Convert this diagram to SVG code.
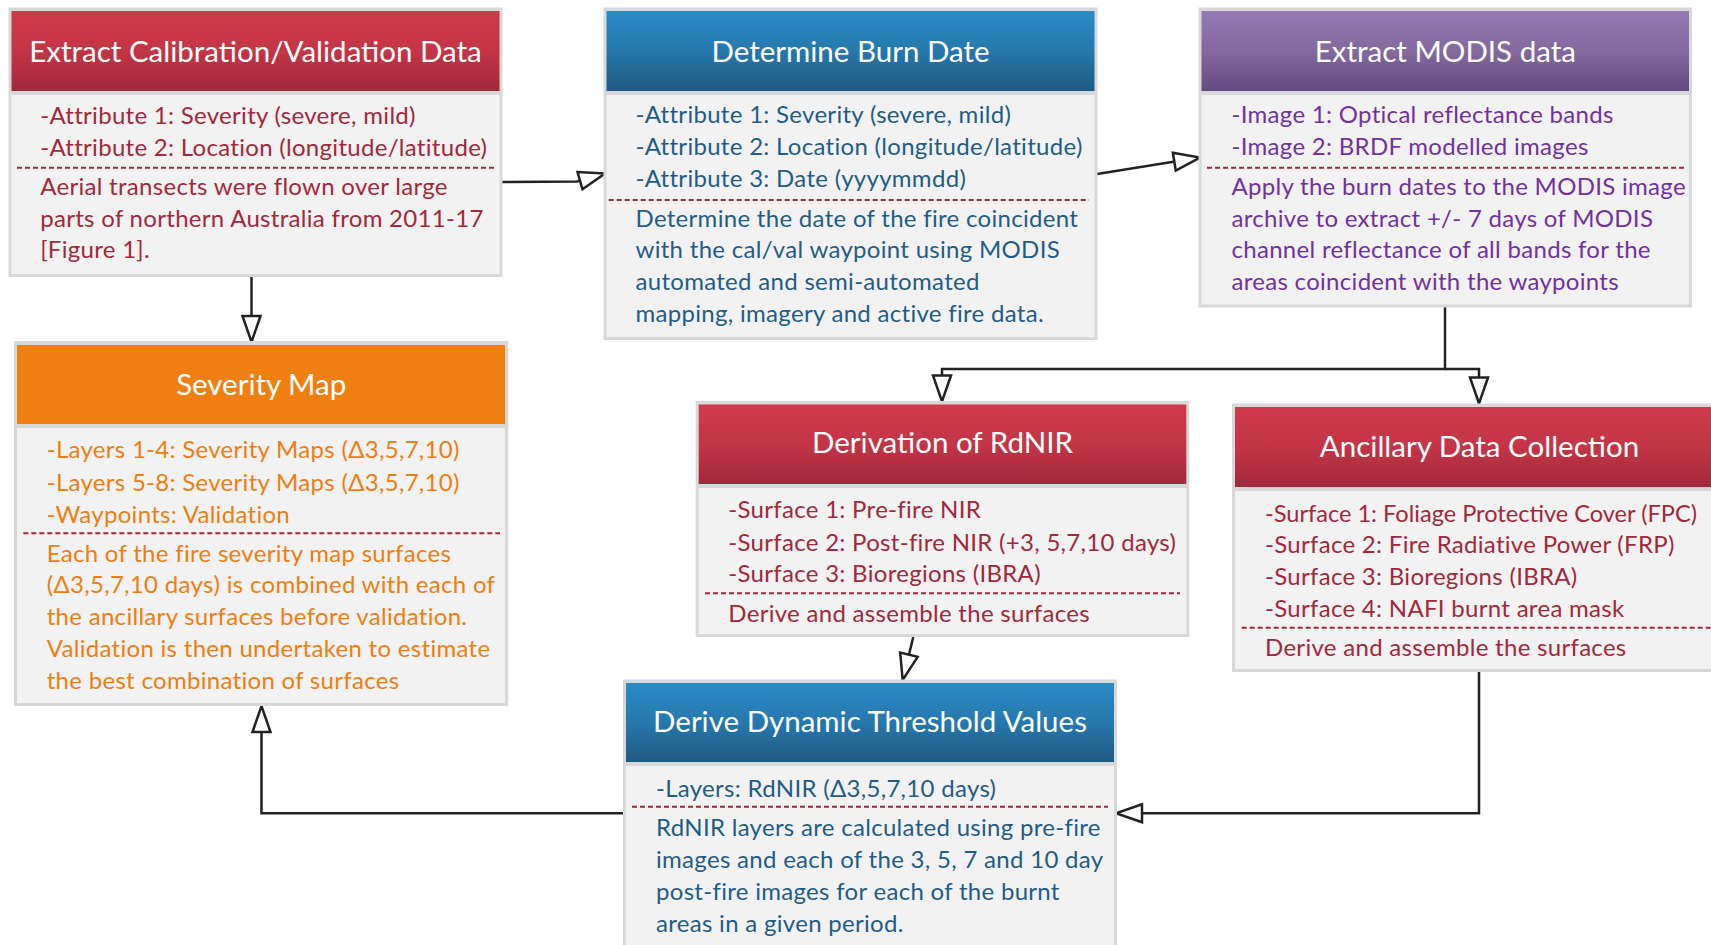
<svg xmlns="http://www.w3.org/2000/svg" width="1711" height="945" viewBox="0 0 1711 945">
<style>
.frame{fill:#d8d8d8}
.body{fill:#f2f2f2}
text{font-family:Lato,"Noto Sans","DejaVu Sans",sans-serif}
.title{fill:#ffffff;font-size:29.5px;text-anchor:middle}
.t{font-size:24px;letter-spacing:0.3px}
.red{fill:#a2283a}
.blue{fill:#1f5d87}
.purple{fill:#7230a0}
.orange{fill:#ee7e11}
.dash{stroke:#a2283a;stroke-width:2;stroke-dasharray:5 3;fill:none}
.conn{stroke:#222222;stroke-width:2.5;fill:none;marker-end:url(#arr)}
</style>
<defs>
<linearGradient id="gRed" x1="0" y1="0" x2="0" y2="1"><stop offset="0" stop-color="#cf3a4b"/><stop offset="0.5" stop-color="#c33546"/><stop offset="1" stop-color="#a1283a"/></linearGradient>
<linearGradient id="gBlue" x1="0" y1="0" x2="0" y2="1"><stop offset="0" stop-color="#2b8bc6"/><stop offset="0.5" stop-color="#2678ad"/><stop offset="1" stop-color="#1f5a82"/></linearGradient>
<linearGradient id="gPurple" x1="0" y1="0" x2="0" y2="1"><stop offset="0" stop-color="#937ab2"/><stop offset="0.5" stop-color="#84699f"/><stop offset="1" stop-color="#634a7e"/></linearGradient>
<marker id="arr" viewBox="0 0 28 20" refX="27" refY="10" markerWidth="28" markerHeight="20" markerUnits="userSpaceOnUse" orient="auto" overflow="visible">
<path d="M1,1 L27,10 L1,19 Z" fill="#ffffff" stroke="#222222" stroke-width="2.5" stroke-linejoin="miter"/>
</marker>
</defs>

<g id="connectors">
<path class="conn" d="M502,182 L577,181.5 L605,173.5"/>
<path class="conn" d="M251.5,277 L251.5,342"/>
<path class="conn" d="M1097,174 L1200,157.5"/>
<path class="conn" d="M1445,307 L1445,369 L942,369 L942,401.5"/>
<path class="conn" d="M1445,369 L1479,369 L1479,403.5"/>
<path class="conn" d="M913.3,637 L902.7,680"/>
<path class="conn" d="M1479,672 L1479,813.3 L1116,813.3"/>
<path class="conn" d="M623,813.3 L261.5,813.3 L261.5,706"/>
</g>

<g id="node-extract-calval">
<rect class="frame" x="8.5" y="7.5" width="494" height="269.5"/>
<rect x="11.5" y="11" width="488" height="80" fill="url(#gRed)"/>
<rect class="body" x="11.5" y="95" width="488" height="179"/>
<text class="title" x="255.5" y="61.7">Extract Calibration/Validation Data</text>
<text class="t red" x="40.2" y="124.3">-Attribute 1: Severity (severe, mild)</text>
<text class="t red" x="40.2" y="156">-Attribute 2: Location (longitude/latitude)</text>
<line class="dash" x1="17" y1="167.7" x2="494" y2="167.7"/>
<text class="t red" x="40.2" y="195">Aerial transects were flown over large</text>
<text class="t red" x="40.2" y="226.7">parts of northern Australia from 2011-17</text>
<text class="t red" x="40.2" y="258.3">[Figure 1].</text>
</g>

<g id="node-burn-date">
<rect class="frame" x="603.5" y="7.5" width="494" height="332.5"/>
<rect x="606.5" y="11" width="488" height="80" fill="url(#gBlue)"/>
<rect class="body" x="606.5" y="95" width="488" height="242"/>
<text class="title" x="850.5" y="61.7">Determine Burn Date</text>
<text class="t blue" x="635.5" y="123.3">-Attribute 1: Severity (severe, mild)</text>
<text class="t blue" x="635.5" y="155">-Attribute 2: Location (longitude/latitude)</text>
<text class="t blue" x="635.5" y="186.7">-Attribute 3: Date (yyyymmdd)</text>
<line class="dash" x1="608.7" y1="200" x2="1089" y2="200"/>
<text class="t blue" x="635.5" y="226.7">Determine the date of the fire coincident</text>
<text class="t blue" x="635.5" y="258.3">with the cal/val waypoint using MODIS</text>
<text class="t blue" x="635.5" y="290">automated and semi-automated</text>
<text class="t blue" x="635.5" y="321.7">mapping, imagery and active fire data.</text>
</g>

<g id="node-modis">
<rect class="frame" x="1198.5" y="7.5" width="493.5" height="300"/>
<rect x="1201.5" y="11" width="487.5" height="80" fill="url(#gPurple)"/>
<rect class="body" x="1201.5" y="95" width="487.5" height="209.5"/>
<text class="title" x="1445.3" y="61.7">Extract MODIS data</text>
<text class="t purple" x="1231.5" y="123.3">-Image 1: Optical reflectance bands</text>
<text class="t purple" x="1231.5" y="155">-Image 2: BRDF modelled images</text>
<line class="dash" x1="1207" y1="167.7" x2="1684.6" y2="167.7"/>
<text class="t purple" x="1231.5" y="195">Apply the burn dates to the MODIS image</text>
<text class="t purple" x="1231.5" y="226.7">archive to extract +/- 7 days of MODIS</text>
<text class="t purple" x="1231.5" y="258.3">channel reflectance of all bands for the</text>
<text class="t purple" x="1231.5" y="290">areas coincident with the waypoints</text>
</g>

<g id="node-severity-map">
<rect class="frame" x="14" y="341" width="494.3" height="365"/>
<rect x="17" y="345" width="488" height="79" fill="#ef7f10"/>
<rect class="body" x="17" y="428" width="488" height="275"/>
<text class="title" x="261.2" y="395">Severity Map</text>
<text class="t orange" x="46.7" y="458.3">-Layers 1-4: Severity Maps (Δ3,5,7,10)</text>
<text class="t orange" x="46.7" y="490.7">-Layers 5-8: Severity Maps (Δ3,5,7,10)</text>
<text class="t orange" x="46.7" y="523.3">-Waypoints: Validation</text>
<line class="dash" x1="23.3" y1="533.3" x2="500" y2="533.3"/>
<text class="t orange" x="46.7" y="561.7">Each of the fire severity map surfaces</text>
<text class="t orange" x="46.7" y="593.3">(Δ3,5,7,10 days) is combined with each of</text>
<text class="t orange" x="46.7" y="625">the ancillary surfaces before validation.</text>
<text class="t orange" x="46.7" y="657.3">Validation is then undertaken to estimate</text>
<text class="t orange" x="46.7" y="689.3">the best combination of surfaces</text>
</g>

<g id="node-rdnir">
<rect class="frame" x="695.7" y="401" width="493.6" height="236"/>
<rect x="698.7" y="404.5" width="487.6" height="79.5" fill="url(#gRed)"/>
<rect class="body" x="698.7" y="488" width="487.6" height="146"/>
<text class="title" x="942.5" y="453.3">Derivation of RdNIR</text>
<text class="t red" x="728.3" y="518.3">-Surface 1: Pre-fire NIR</text>
<text class="t red" x="728.3" y="550.7">-Surface 2: Post-fire NIR (+3, 5,7,10 days)</text>
<text class="t red" x="728.3" y="582.3">-Surface 3: Bioregions (IBRA)</text>
<line class="dash" x1="705" y1="593.3" x2="1180" y2="593.3"/>
<text class="t red" x="728.3" y="621.7">Derive and assemble the surfaces</text>
</g>

<g id="node-ancillary">
<rect class="frame" x="1232" y="403.5" width="494" height="268.5"/>
<rect x="1235" y="407" width="488" height="80" fill="url(#gRed)"/>
<rect class="body" x="1235" y="491" width="488" height="178"/>
<text class="title" x="1479.5" y="456.7">Ancillary Data Collection</text>
<text class="red" x="1265" y="521.7" font-size="23.5" textLength="432" lengthAdjust="spacingAndGlyphs">-Surface 1: Foliage Protective Cover (FPC)</text>
<text class="t red" x="1265" y="553.3">-Surface 2: Fire Radiative Power (FRP)</text>
<text class="t red" x="1265" y="585">-Surface 3: Bioregions (IBRA)</text>
<text class="t red" x="1265" y="616.7">-Surface 4: NAFI burnt area mask</text>
<line class="dash" x1="1241.7" y1="627.7" x2="1720" y2="627.7"/>
<text class="t red" x="1265" y="656">Derive and assemble the surfaces</text>
</g>

<g id="node-dynamic-threshold">
<rect class="frame" x="623" y="679.5" width="494" height="280"/>
<rect x="626" y="683" width="488" height="79" fill="url(#gBlue)"/>
<rect class="body" x="626" y="766" width="488" height="190"/>
<text class="title" x="870" y="731.7">Derive Dynamic Threshold Values</text>
<text class="t blue" x="656" y="796.7">-Layers: RdNIR (Δ3,5,7,10 days)</text>
<line class="dash" x1="632" y1="806.7" x2="1108" y2="806.7"/>
<text class="t blue" x="656" y="836">RdNIR layers are calculated using pre-fire</text>
<text class="t blue" x="656" y="868.3">images and each of the 3, 5, 7 and 10 day</text>
<text class="t blue" x="656" y="900">post-fire images for each of the burnt</text>
<text class="t blue" x="656" y="931.7">areas in a given period.</text>
</g>
</svg>
